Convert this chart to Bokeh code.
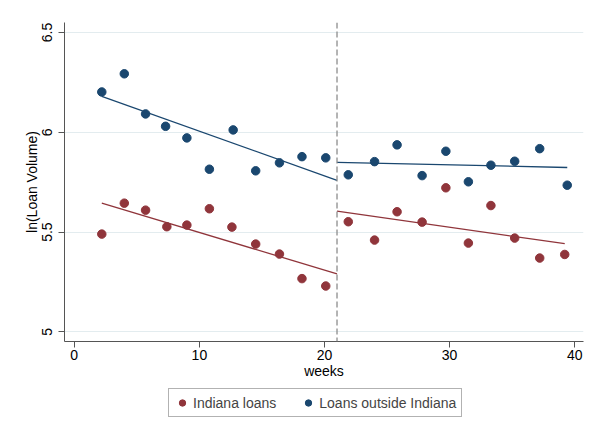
import numpy as np
from bokeh.plotting import figure
from bokeh.layouts import column
from bokeh.models import Span, Legend, LegendItem, FixedTicker, Range1d
from bokeh.embed import file_html
from bokeh.resources import INLINE

# ---- data ----
weeks_in = [2.2, 4.0, 5.7, 7.4, 9.0, 10.8, 12.6, 14.5, 16.4, 18.2, 20.1,
            21.9, 24.0, 25.8, 27.8, 29.7, 31.5, 33.3, 35.2, 37.2, 39.2]
indiana = [5.49, 5.645, 5.61, 5.527, 5.535, 5.617, 5.525, 5.44, 5.39, 5.267, 5.23,
           5.552, 5.46, 5.602, 5.55, 5.722, 5.445, 5.633, 5.47, 5.37, 5.388]
weeks_out = [2.2, 4.0, 5.7, 7.3, 9.0, 10.8, 12.7, 14.5, 16.4, 18.2, 20.1,
             21.9, 24.0, 25.8, 27.8, 29.7, 31.5, 33.3, 35.2, 37.2, 39.4]
outside = [6.202, 6.293, 6.092, 6.03, 5.972, 5.815, 6.012, 5.807, 5.847, 5.878, 5.872,
           5.787, 5.853, 5.937, 5.783, 5.905, 5.752, 5.835, 5.855, 5.918, 5.735]
cutoff = 21
xticks = [0, 10, 20, 30, 40]
yticks = [5, 5.5, 6, 6.5]
ytick_labels = ["5", "5.5", "6", "6.5"]
series_labels = ["Indiana loans", "Loans outside Indiana"]

RED = "#90353b"
BLUE = "#1a476f"
FONT = "Liberation Sans"

p = figure(frame_width=519, frame_height=319, output_backend="svg", toolbar_location=None,
           x_range=Range1d(-0.78, 40.7), y_range=Range1d(4.952, 6.55),
           min_border_left=64, min_border_right=9, min_border_top=22, min_border_bottom=45)
p.outline_line_color = None
p.background_fill_color = "white"
p.border_fill_color = "white"

# grid
p.xgrid.visible = False
p.ygrid.ticker = FixedTicker(ticks=yticks)
p.ygrid.grid_line_color = "#e3ecef"
p.ygrid.grid_line_width = 1

# axes
for ax in (p.xaxis[0], p.yaxis[0]):
    ax.axis_line_color = "#555555"
    ax.major_tick_line_color = "#555555"
    ax.minor_tick_line_color = None
    ax.major_tick_out = 6
    ax.major_tick_in = 0
    ax.major_label_text_font = FONT
    ax.major_label_text_font_size = "14px"
    ax.major_label_text_color = "black"
    ax.axis_label_text_font = FONT
    ax.axis_label_text_font_size = "14px"
    ax.axis_label_text_font_style = "normal"
    ax.axis_label_text_color = "black"

p.xaxis.ticker = FixedTicker(ticks=xticks)
p.xaxis.axis_label = "weeks"
p.xaxis.major_label_standoff = 2
p.xaxis.axis_label_standoff = 0

p.yaxis.ticker = FixedTicker(ticks=yticks)
p.yaxis.major_label_overrides = {t: l for t, l in zip(yticks, ytick_labels)}
p.yaxis.major_label_orientation = "vertical"
p.yaxis.axis_label = "ln(Loan Volume)"
p.yaxis.major_label_standoff = 6
p.yaxis.axis_label_standoff = 0

# cutoff line
p.add_layout(Span(location=cutoff, dimension="height", line_color="#8c8c8c",
                  line_dash="6 3", line_width=1.3))

def fit_segments(xs, ys):
    xs = np.asarray(xs); ys = np.asarray(ys)
    segs = []
    for mask, lo, hi in ((xs < cutoff, xs.min(), cutoff), (xs > cutoff, cutoff, xs.max())):
        b, a = np.polyfit(xs[mask], ys[mask], 1)
        segs.append(([lo, hi], [a + b * lo, a + b * hi]))
    return segs

for (sx, sy) in fit_segments(weeks_in, indiana):
    p.line(sx, sy, line_color=RED, line_width=1.3)
for (sx, sy) in fit_segments(weeks_out, outside):
    p.line(sx, sy, line_color=BLUE, line_width=1.3)

p.scatter(weeks_in, indiana, size=8.5, fill_color=RED, line_color=RED)
p.scatter(weeks_out, outside, size=8.5, fill_color=BLUE, line_color=BLUE)

# ---- legend strip below the plot (its own series renderers lie outside its view) ----
p2 = figure(width=592, height=50, output_backend="svg", toolbar_location=None,
            min_border=0, x_range=Range1d(-1, 0), y_range=Range1d(-1, 0))
p2.axis.visible = False
p2.grid.visible = False
p2.outline_line_color = None
p2.border_fill_color = "white"
l_in = p2.scatter(weeks_in, indiana, size=8.5, fill_color=RED, line_color=RED)
l_out = p2.scatter(weeks_out, outside, size=8.5, fill_color=BLUE, line_color=BLUE)

legend = Legend(items=[LegendItem(label=series_labels[0], renderers=[l_in]),
                       LegendItem(label=series_labels[1], renderers=[l_out])],
                orientation="horizontal", location=(104, 19),
                label_text_font=FONT, label_text_font_size="14px",
                glyph_width=16, glyph_height=17, label_standoff=3, spacing=24,
                padding=5, margin=0, border_line_color="#666666", border_line_width=1,
                background_fill_color="white")
p2.add_layout(legend)

open("out.html", "w").write(file_html(column(p, p2), INLINE))
